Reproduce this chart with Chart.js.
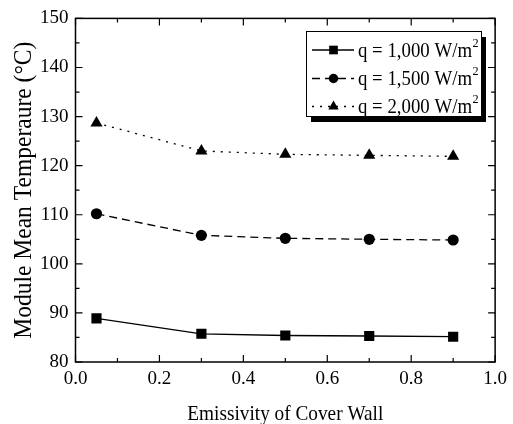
<!DOCTYPE html>
<html><head><meta charset="utf-8">
<script src="https://cdn.jsdelivr.net/npm/chart.js@4/dist/chart.umd.min.js"></script>
<style>html,body{margin:0;padding:0;background:#fff}#wrap{width:513px;height:424px}</style>
</head><body><div id="wrap"><canvas id="c" width="513" height="424"></canvas></div>
<script>
const emissivity = [0.05, 0.3, 0.5, 0.7, 0.9];
const q1000 = [88.9, 85.75, 85.4, 85.3, 85.15];
const q1500 = [110.2, 105.8, 105.2, 105.0, 104.85];
const q2000 = [128.7, 123.0, 122.3, 122.1, 121.9];
const seriesLabels = ['q = 1,000 W/m', 'q = 1,500 W/m', 'q = 2,000 W/m'];
const xTicks = [0.0, 0.2, 0.4, 0.6, 0.8, 1.0];
const yTicks = [80, 90, 100, 110, 120, 130, 140, 150];
const xTitle = 'Emissivity of Cover Wall';
const yTitle = 'Module Mean Temperaure (°C)';

const FONT = '"Liberation Serif", "Times New Roman", serif';
const pts = (ys) => emissivity.map((x, i) => ({x, y: ys[i]}));

const ds = [
  {label: seriesLabels[0], data: pts(q1000), borderDash: [], pointStyle: 'rect', pointRadius: 7.2},
  {label: seriesLabels[1], data: pts(q1500), borderDash: [8, 5], pointStyle: 'circle', pointRadius: 5.6},
  {label: seriesLabels[2], data: pts(q2000), borderDash: [2, 6], pointStyle: 'triangle', pointRadius: 7}
].map(d => Object.assign({
  showLine: true, borderColor: '#000', backgroundColor: '#000', borderWidth: 1.3,
  pointBorderWidth: 0, pointBackgroundColor: '#000', tension: 0
}, d));

// draw text condensed horizontally by factor sx
function condText(ctx, txt, x, y, sx) {
  ctx.save();
  ctx.translate(x, y);
  ctx.scale(sx, 1);
  ctx.fillText(txt, 0, 0);
  ctx.restore();
}

const framePlugin = {
  id: 'frame',
  afterDatasetsDraw(chart) {
    const {ctx, chartArea: a, scales: {x, y}} = chart;
    ctx.save();
    ctx.strokeStyle = '#000';
    ctx.lineWidth = 1.5;
    ctx.strokeRect(a.left, a.top, a.right - a.left, a.bottom - a.top);
    ctx.lineWidth = 1.2;
    ctx.beginPath();
    for (let v = 0; v <= 1.0001; v += 0.1) {
      const px = x.getPixelForValue(v);
      const major = Math.round(v * 10) % 2 === 0;
      const len = major ? 7 : 4;
      ctx.moveTo(px, a.bottom); ctx.lineTo(px, a.bottom - len);
      ctx.moveTo(px, a.top); ctx.lineTo(px, a.top + len);
    }
    for (let v = 80; v <= 150; v += 5) {
      const py = y.getPixelForValue(v);
      const len = v % 10 === 0 ? 7 : 4;
      ctx.moveTo(a.left, py); ctx.lineTo(a.left + len, py);
      ctx.moveTo(a.right, py); ctx.lineTo(a.right - len, py);
    }
    ctx.stroke();
    ctx.restore();
  },
  afterDraw(chart) {
    const {ctx, chartArea: a} = chart;
    ctx.save();
    ctx.fillStyle = '#000';
    // axis titles (condensed serif as in the original)
    ctx.textBaseline = 'alphabetic';
    ctx.textAlign = 'left';
    ctx.font = '22px ' + FONT;
    let w = ctx.measureText(xTitle).width;
    let sx = 196 / w;
    condText(ctx, xTitle, (a.left + a.right) / 2 - 98, 420, sx);
    ctx.save();
    ctx.translate(31, (a.top + a.bottom) / 2);
    ctx.rotate(-Math.PI / 2);
    ctx.font = '26px ' + FONT;
    w = ctx.measureText(yTitle).width;
    sx = 297 / w;
    condText(ctx, yTitle, -148.5, 0, sx);
    ctx.restore();

    // legend box
    const bx = 306, by = 31, bw = 175, bh = 85;
    ctx.fillStyle = '#000';
    ctx.fillRect(bx + 5, by + 6, bw, bh);
    ctx.fillStyle = '#fff';
    ctx.fillRect(bx, by, bw, bh);
    ctx.strokeStyle = '#000';
    ctx.lineWidth = 1;
    ctx.strokeRect(bx + 0.5, by + 0.5, bw, bh);
    const rows = [50, 78.5, 106.5];
    chart.data.datasets.forEach((d, i) => {
      const cy = rows[i];
      ctx.save();
      ctx.strokeStyle = '#000';
      ctx.lineWidth = 1.3;
      ctx.setLineDash(d.borderDash);
      ctx.beginPath(); ctx.moveTo(312, cy); ctx.lineTo(354, cy); ctx.stroke();
      ctx.restore();
      ctx.fillStyle = '#000';
      ctx.strokeStyle = '#000';
      Chart.helpers.drawPoint(ctx, {pointStyle: d.pointStyle, radius: d.pointRadius * 0.85, borderWidth: 0}, 333.5, cy);
      ctx.font = '20px ' + FONT;
      ctx.textBaseline = 'alphabetic';
      ctx.textAlign = 'left';
      const tw = ctx.measureText(d.label).width;
      const s = 114 / tw;
      condText(ctx, d.label, 358, cy + 6.5, s);
      ctx.font = '13px ' + FONT;
      condText(ctx, '2', 358 + 114.5, cy - 3.5, s);
    });
    ctx.restore();
  }
};

new Chart(document.getElementById('c'), {
  type: 'scatter',
  data: {datasets: ds},
  plugins: [framePlugin],
  options: {
    responsive: false, animation: false,
    layout: {padding: {top: 15, right: 17, left: 0, bottom: 0}},
    plugins: {legend: {display: false}, tooltip: {enabled: false}},
    scales: {
      x: {
        min: 0, max: 1,
        afterFit(s) { s.height = 62; },
        afterBuildTicks(s) { s.ticks = xTicks.map(v => ({value: v})); },
        grid: {display: false, drawTicks: false},
        border: {display: false},
        ticks: {padding: 6, color: '#000', font: {family: FONT, size: 19}, maxRotation: 0,
          callback: v => v.toFixed(1)},
        title: {display: false}
      },
      y: {
        min: 80, max: 150,
        afterFit(s) { s.width = 75.5; },
        afterBuildTicks(s) { s.ticks = yTicks.map(v => ({value: v})); },
        grid: {display: false, drawTicks: false},
        border: {display: false},
        ticks: {padding: 7, color: '#000', font: {family: FONT, size: 19}},
        title: {display: false}
      }
    }
  }
});
</script></body></html>
